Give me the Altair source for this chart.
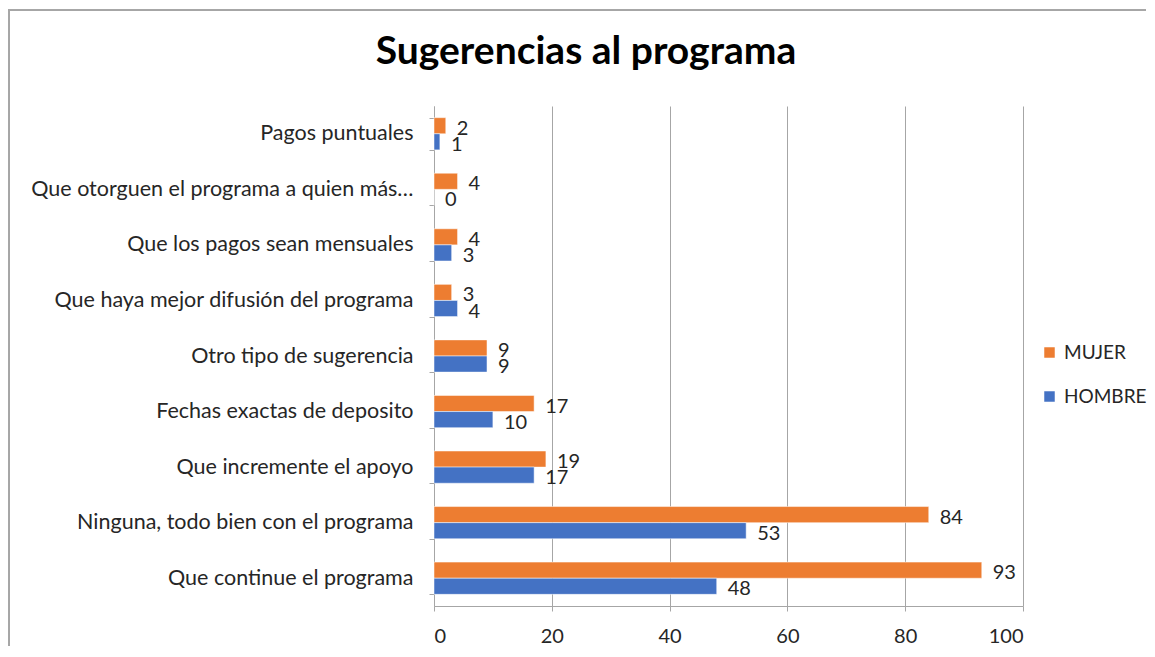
import altair as alt
import pandas as pd

title_text = "Sugerencias al programa"
categories = [
    "Pagos puntuales",
    "Que otorguen el programa a quien más…",
    "Que los pagos sean mensuales",
    "Que haya mejor difusión del programa",
    "Otro tipo de sugerencia",
    "Fechas exactas de deposito",
    "Que incremente el apoyo",
    "Ninguna, todo bien con el programa",
    "Que continue el programa",
]
mujer = [2, 4, 4, 3, 9, 17, 19, 84, 93]
hombre = [1, 0, 3, 4, 9, 10, 17, 53, 48]
series = ["MUJER", "HOMBRE"]
colors = ["#ED7D31", "#4472C4"]
x_ticks = [0, 20, 40, 60, 80, 100]

rows = []
for c, m, h in zip(categories, mujer, hombre):
    rows.append({"cat": c, "sexo": "MUJER", "val": m})
    rows.append({"cat": c, "sexo": "HOMBRE", "val": h})
df = pd.DataFrame(rows)

FONT = "Lato"
TXT = "#262626"

base = alt.Chart(df).encode(
    y=alt.Y("cat:N", sort=categories,
            scale=alt.Scale(paddingInner=0.42, paddingOuter=0.21),
            axis=alt.Axis(title=None, tickBand="extent", labelFontSize=21.5,
                          labelFont=FONT, labelColor=TXT, labelPadding=16,
                          tickSize=5, tickColor="#A6A6A6", domainColor="#A6A6A6",
                          labelLimit=420, grid=False)),
    yOffset=alt.YOffset("sexo:N", sort=series),
)

bars = base.mark_bar(stroke="white", strokeWidth=0.5).encode(
    x=alt.X("val:Q", scale=alt.Scale(domain=[0, 100], nice=False),
            axis=alt.Axis(title=None, values=x_ticks, labelFontSize=20, labelFont=FONT,
                          labelColor=TXT, tickSize=5, tickColor="#A6A6A6",
                          domainColor="#A6A6A6", gridColor="#A6A6A6", labelPadding=15,
                          grid=True)),
    color=alt.Color("sexo:N", scale=alt.Scale(domain=series, range=colors),
                    legend=alt.Legend(title=None, orient="none", legendX=606, legendY=237,
                                      symbolType="square", symbolSize=110,
                                      symbolStrokeWidth=0, labelFontSize=19,
                                      labelFont=FONT, labelColor=TXT,
                                      rowPadding=24, labelOffset=5)),
)

labels = base.mark_text(align="left", baseline="middle", dx=11, dy=3, fontSize=20,
                        font=FONT, color=TXT).encode(
    x=alt.X("val:Q"),
    text=alt.Text("val:Q"),
)

title = alt.Chart(pd.DataFrame({"t": [title_text]})).mark_text(
    font=FONT, fontSize=39, fontWeight="bold", color="black",
    align="center", baseline="alphabetic"
).encode(x=alt.value(152), y=alt.value(-42), text="t:N")

top_border = alt.Chart(df).mark_rule(color="#A6A6A6", strokeWidth=1).encode(
    x=alt.value(-426), x2=alt.value(712), y=alt.value(-96)
)
left_border = alt.Chart(df).mark_rule(color="#A6A6A6", strokeWidth=1).encode(
    x=alt.value(-425), y=alt.value(-96), y2=alt.value(545)
)

chart = alt.layer(bars, labels, title, top_border, left_border).properties(
    width=589,
    height=500,
    padding={"left": 426, "top": 98, "right": 124, "bottom": 40},
    autosize=alt.AutoSizeParams(type="none"),
).configure_view(stroke=None)

chart.save("out.html", embed_options={"renderer": "svg", "actions": False})
